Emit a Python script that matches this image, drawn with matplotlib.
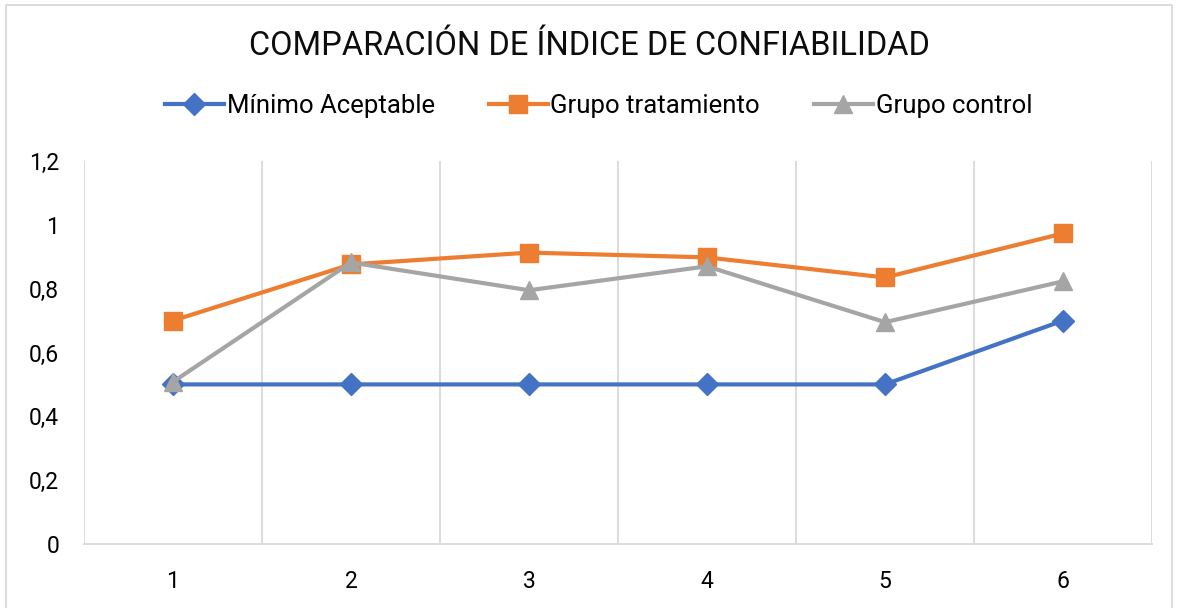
import matplotlib
matplotlib.use("Agg")
import matplotlib.pyplot as plt
from matplotlib.lines import Line2D
from matplotlib.ticker import FuncFormatter

categories = [1, 2, 3, 4, 5, 6]
minimo = [0.5, 0.5, 0.5, 0.5, 0.5, 0.7]
tratamiento = [0.70, 0.876, 0.913, 0.898, 0.835, 0.973]
control = [0.508, 0.882, 0.795, 0.870, 0.695, 0.823]
series_names = ["Mínimo Aceptable", "Grupo tratamiento", "Grupo control"]
title = "COMPARACIÓN DE ÍNDICE DE CONFIABILIDAD"
yticks = [0, 0.2, 0.4, 0.6, 0.8, 1.0, 1.2]

plt.rcParams['font.family'] = ['Roboto', 'DejaVu Sans']

W, H = 1178, 608
fig = plt.figure(figsize=(W / 100, H / 100), dpi=100)
ax = fig.add_axes([84 / W, 1 - 544 / H, (1152 - 84) / W, (544 - 161) / H])

colors = ["#4472C4", "#ED7D31", "#A5A5A5"]
markers = ["D", "s", "^"]
msizes = [11, 13, 13]
data = [minimo, tratamiento, control]
for vals, c, m, ms, name in zip(data, colors, markers, msizes, series_names):
    ax.plot(categories, vals, color=c, lw=3, marker=m, markersize=ms,
            label=name, zorder=3, solid_joinstyle='round')

ax.set_xlim(0.5, 6.5)
ax.set_ylim(0, 1.2)
ax.set_xticks(categories)
ax.set_yticks(yticks)
ax.yaxis.set_major_formatter(FuncFormatter(lambda v, p: ("%g" % round(v, 1)).replace(".", ",")))
ax.set_xticks([c + 0.5 for c in [0] + categories], minor=True)
ax.grid(True, which='minor', axis='x', color='#D9D9D9', lw=1.3)
ax.tick_params(axis='both', which='both', length=0, labelsize=16.5, colors='black')
ax.tick_params(axis='y', pad=18)
ax.tick_params(axis='x', pad=19)
for s in ['top', 'right', 'left']:
    ax.spines[s].set_visible(False)
ax.spines['bottom'].set_color('#D9D9D9')
ax.spines['bottom'].set_linewidth(1.3)

fig.text(0.5, 1 - 46 / H, title, ha='center', va='center', fontsize=23.5,
         color='#0d0d0d')

handles = [Line2D([], [], color=c, lw=3, marker=m, markersize=ms)
           for c, m, ms in zip(colors, markers, msizes)]
fig.legend(handles, series_names, loc='center', bbox_to_anchor=(0.508, 1 - 106 / H),
           ncol=3, frameon=False, fontsize=18.5, handlelength=2.3,
           handletextpad=0.1, columnspacing=2.1)

# chart border
fig.add_artist(Line2D([6 / W, 6 / W, 1172 / W, 1172 / W],
                      [0, 1 - 5 / H, 1 - 5 / H, 0], color='#D9D9D9', lw=1.3,
                      transform=fig.transFigure))

fig.savefig("out.png", dpi=100)
